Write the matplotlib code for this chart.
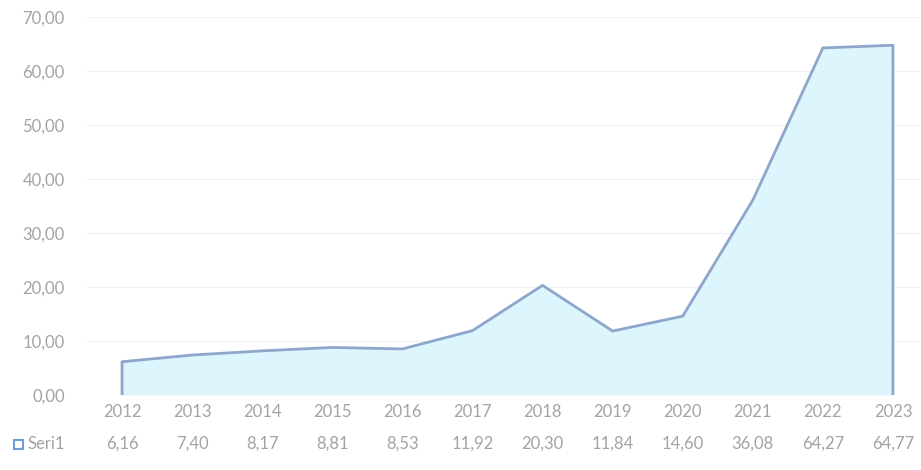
import matplotlib
matplotlib.use("Agg")
import matplotlib.pyplot as plt
from matplotlib.patches import Rectangle

years = ["2012", "2013", "2014", "2015", "2016", "2017",
         "2018", "2019", "2020", "2021", "2022", "2023"]
values = [6.16, 7.40, 8.17, 8.81, 8.53, 11.92, 20.30, 11.84, 14.60, 36.08, 64.27, 64.77]
series_name = "Seri1"
y_ticks = [0, 10, 20, 30, 40, 50, 60, 70]

fill_color = "#DDF5FC"
edge_color = "#8FA6CC"
text_color = "#A3A3A3"
grid_color = "#F0F0F0"


def fmt(v):
    return f"{v:.2f}".replace(".", ",")


plt.rcParams["font.family"] = ["Lato", "DejaVu Sans"]

fig = plt.figure(figsize=(9.21, 4.70), dpi=100)
ax = fig.add_axes([87 / 921, 1 - 395 / 470, 1 - 87 / 921, (395 - 17) / 470])

x = list(range(len(years)))
ax.fill_between(x, values, 0, color=fill_color, linewidth=0)
ax.plot([x[0]] + x + [x[-1]], [0] + values + [0], color=edge_color, linewidth=2)

ax.set_xlim(-0.5, 11.4)
ax.set_ylim(0, 70)
ax.set_yticks(y_ticks)
ax.set_yticklabels([fmt(v) for v in y_ticks])
ax.tick_params(axis="y", length=0, pad=16, labelsize=12, labelcolor=text_color)
ax.set_xticks([])
ax.grid(axis="y", color=grid_color, linewidth=0.8)
ax.set_axisbelow(True)
for s in ax.spines.values():
    s.set_visible(False)

# data table below the axis
trans = ax.get_xaxis_transform()
for xi, yr, v in zip(x, years, values):
    ax.text(xi, -17 / 378, yr, transform=trans, ha="center", va="center",
            fontsize=12, color=text_color)
    ax.text(xi, -49 / 378, fmt(v), transform=trans, ha="center", va="center",
            fontsize=12, color=text_color)

fig.patches.append(Rectangle((14 / 921, 1 - 449 / 470), 9 / 921, 9 / 470,
                             transform=fig.transFigure, facecolor="white",
                             edgecolor="#6F9ED6", linewidth=1.5))
fig.text(27 / 921, 1 - 444 / 470, series_name, ha="left", va="center",
         fontsize=12, color=text_color)

fig.savefig("out.png", dpi=100)
